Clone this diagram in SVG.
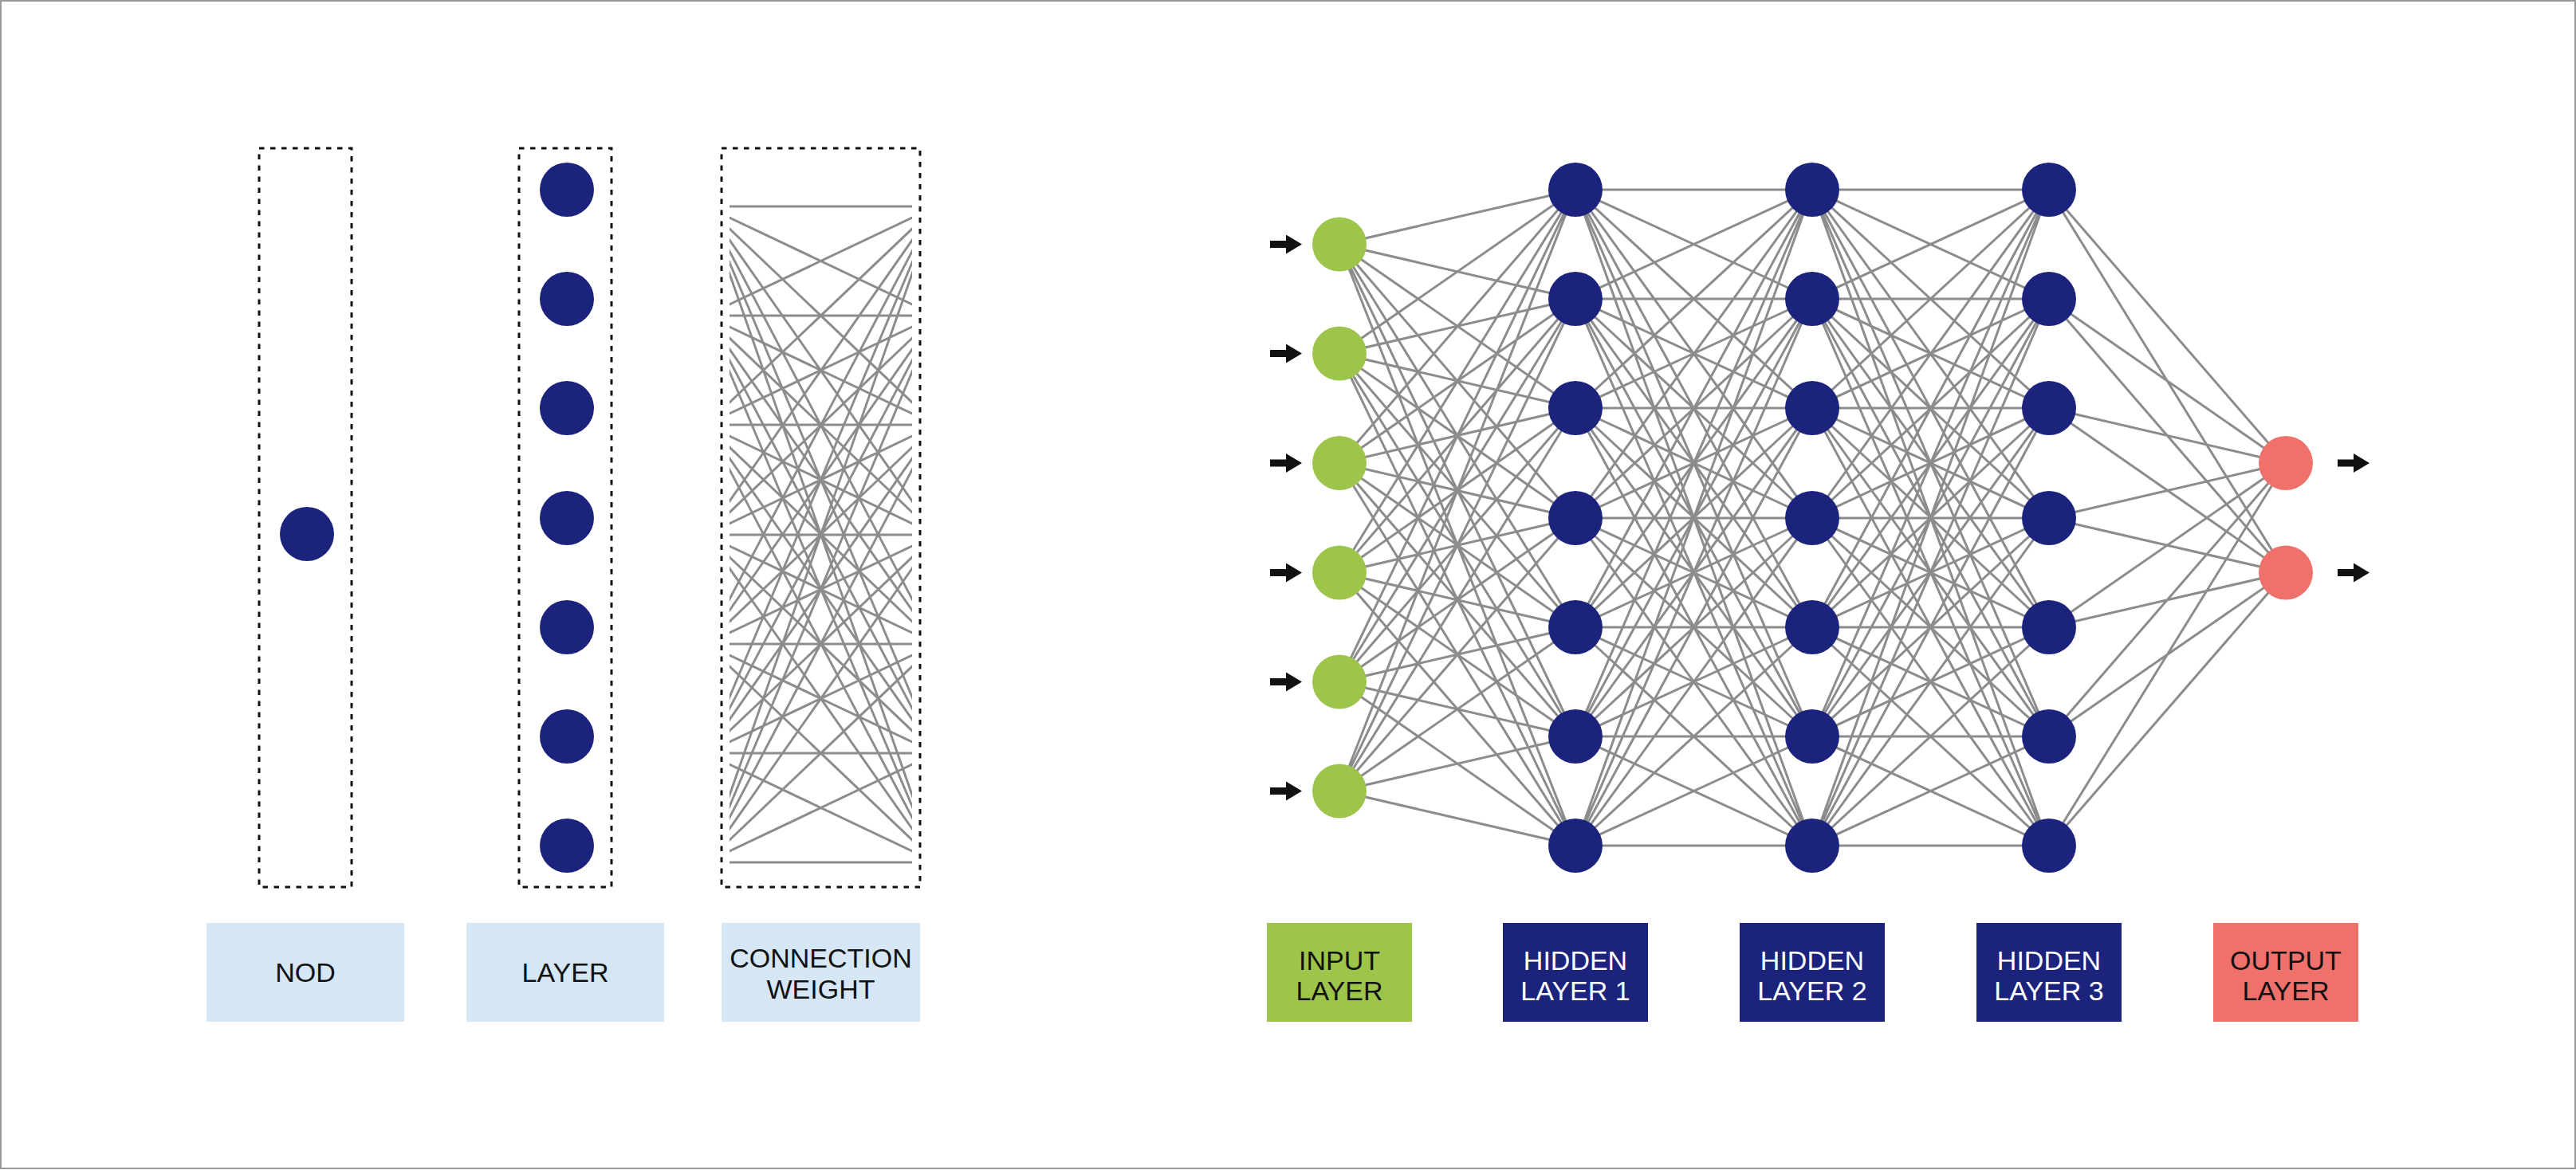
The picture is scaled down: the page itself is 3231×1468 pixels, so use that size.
<svg xmlns="http://www.w3.org/2000/svg" xmlns:xlink="http://www.w3.org/1999/xlink" width="3231" height="1468" viewBox="0 0 3231 1468">
<style>
.frame{fill:#fff;stroke:#9a9a9a;stroke-width:2}
.dash{fill:none;stroke:#111;stroke-width:3;stroke-dasharray:6.5 7.5}
.wire{fill:none;stroke:#8c8c8c;stroke-width:3}
.navy{fill:#1b237d}
.green{fill:#9dc54b}
.red{fill:#f0716b}
.lblue{fill:#d5e6f5}
.arrow{fill:#111}
.t{font-family:"Liberation Sans",Arial,sans-serif;font-size:34px;text-anchor:middle}
.dark{fill:#111}
.white{fill:#fff}
</style>
<defs>
<path id="hh" d="M0 238L297 238M0 238L297 375M0 238L297 512M0 238L297 650M0 238L297 787M0 238L297 924M0 238L297 1061M0 375L297 238M0 375L297 375M0 375L297 512M0 375L297 650M0 375L297 787M0 375L297 924M0 375L297 1061M0 512L297 238M0 512L297 375M0 512L297 512M0 512L297 650M0 512L297 787M0 512L297 924M0 512L297 1061M0 650L297 238M0 650L297 375M0 650L297 512M0 650L297 650M0 650L297 787M0 650L297 924M0 650L297 1061M0 787L297 238M0 787L297 375M0 787L297 512M0 787L297 650M0 787L297 787M0 787L297 924M0 787L297 1061M0 924L297 238M0 924L297 375M0 924L297 512M0 924L297 650M0 924L297 787M0 924L297 924M0 924L297 1061M0 1061L297 238M0 1061L297 375M0 1061L297 512M0 1061L297 650M0 1061L297 787M0 1061L297 924M0 1061L297 1061"/>
<path id="arr" d="M0 -4.5H20V-12L40 0L20 12V4.5H0Z"/>
<clipPath id="cwclip"><rect x="915" y="180" width="229" height="940"/></clipPath>
</defs>

<rect class="frame" x="1" y="1" width="3229" height="1465"/>

<!-- left legend panel -->
<g id="nod-panel">
<rect class="dash" x="325" y="186" width="116" height="927"/>
<circle class="navy" cx="385" cy="670" r="34"/>
</g>
<g id="layer-panel">
<rect class="dash" x="651" y="186" width="116" height="927"/>
<circle class="navy" cx="711" cy="238" r="34"/>
<circle class="navy" cx="711" cy="375" r="34"/>
<circle class="navy" cx="711" cy="512" r="34"/>
<circle class="navy" cx="711" cy="650" r="34"/>
<circle class="navy" cx="711" cy="787" r="34"/>
<circle class="navy" cx="711" cy="924" r="34"/>
<circle class="navy" cx="711" cy="1061" r="34"/>
</g>
<g id="weight-panel">
<rect class="dash" x="905" y="186" width="249" height="927"/>
<g clip-path="url(#cwclip)">
<use xlink:href="#hh" class="wire" transform="translate(885.5,21) scale(0.97,1)"/>
</g>
</g>

<g id="label-nod">
<rect class="lblue" x="259" y="1158" width="248" height="124"/>
<text class="t dark" x="383" y="1232">NOD</text>
</g>
<g id="label-layer">
<rect class="lblue" x="585" y="1158" width="248" height="124"/>
<text class="t dark" x="709" y="1232">LAYER</text>
</g>
<g id="label-weight">
<rect class="lblue" x="905" y="1158" width="249" height="124"/>
<text class="t dark" x="1029.5" y="1214">CONNECTION</text>
<text class="t dark" x="1029.5" y="1253">WEIGHT</text>
</g>

<!-- connectors -->
<g id="connectors">
<path class="wire" d="M1680 306.5L1976 238M1680 306.5L1976 375M1680 306.5L1976 512M1680 306.5L1976 650M1680 306.5L1976 787M1680 306.5L1976 924M1680 306.5L1976 1061M1680 443.5L1976 238M1680 443.5L1976 375M1680 443.5L1976 512M1680 443.5L1976 650M1680 443.5L1976 787M1680 443.5L1976 924M1680 443.5L1976 1061M1680 581L1976 238M1680 581L1976 375M1680 581L1976 512M1680 581L1976 650M1680 581L1976 787M1680 581L1976 924M1680 581L1976 1061M1680 718.5L1976 238M1680 718.5L1976 375M1680 718.5L1976 512M1680 718.5L1976 650M1680 718.5L1976 787M1680 718.5L1976 924M1680 718.5L1976 1061M1680 855.5L1976 238M1680 855.5L1976 375M1680 855.5L1976 512M1680 855.5L1976 650M1680 855.5L1976 787M1680 855.5L1976 924M1680 855.5L1976 1061M1680 992.5L1976 238M1680 992.5L1976 375M1680 992.5L1976 512M1680 992.5L1976 650M1680 992.5L1976 787M1680 992.5L1976 924M1680 992.5L1976 1061"/>
<use xlink:href="#hh" class="wire" transform="translate(1976,0)"/>
<use xlink:href="#hh" class="wire" transform="translate(2273,0)"/>
<path class="wire" d="M2570 238L2867 581M2570 375L2867 581M2570 512L2867 581M2570 650L2867 581M2570 787L2867 581M2570 924L2867 581M2570 1061L2867 581M2570 238L2867 718.5M2570 375L2867 718.5M2570 512L2867 718.5M2570 650L2867 718.5M2570 787L2867 718.5M2570 924L2867 718.5M2570 1061L2867 718.5"/>
<use xlink:href="#arr" class="arrow" x="1593" y="306.5"/>
<use xlink:href="#arr" class="arrow" x="1593" y="443.5"/>
<use xlink:href="#arr" class="arrow" x="1593" y="581"/>
<use xlink:href="#arr" class="arrow" x="1593" y="718.5"/>
<use xlink:href="#arr" class="arrow" x="1593" y="855.5"/>
<use xlink:href="#arr" class="arrow" x="1593" y="992.5"/>
<use xlink:href="#arr" class="arrow" x="2932" y="581"/>
<use xlink:href="#arr" class="arrow" x="2932" y="718.5"/>
</g>

<!-- input nodes -->
<g id="in-1"><circle class="green" cx="1680" cy="306.5" r="34"/></g>
<g id="in-2"><circle class="green" cx="1680" cy="443.5" r="34"/></g>
<g id="in-3"><circle class="green" cx="1680" cy="581" r="34"/></g>
<g id="in-4"><circle class="green" cx="1680" cy="718.5" r="34"/></g>
<g id="in-5"><circle class="green" cx="1680" cy="855.5" r="34"/></g>
<g id="in-6"><circle class="green" cx="1680" cy="992.5" r="34"/></g>

<!-- hidden layer 1 -->
<g id="h1-1"><circle class="navy" cx="1976" cy="238" r="34"/></g>
<g id="h1-2"><circle class="navy" cx="1976" cy="375" r="34"/></g>
<g id="h1-3"><circle class="navy" cx="1976" cy="512" r="34"/></g>
<g id="h1-4"><circle class="navy" cx="1976" cy="650" r="34"/></g>
<g id="h1-5"><circle class="navy" cx="1976" cy="787" r="34"/></g>
<g id="h1-6"><circle class="navy" cx="1976" cy="924" r="34"/></g>
<g id="h1-7"><circle class="navy" cx="1976" cy="1061" r="34"/></g>

<!-- hidden layer 2 -->
<g id="h2-1"><circle class="navy" cx="2273" cy="238" r="34"/></g>
<g id="h2-2"><circle class="navy" cx="2273" cy="375" r="34"/></g>
<g id="h2-3"><circle class="navy" cx="2273" cy="512" r="34"/></g>
<g id="h2-4"><circle class="navy" cx="2273" cy="650" r="34"/></g>
<g id="h2-5"><circle class="navy" cx="2273" cy="787" r="34"/></g>
<g id="h2-6"><circle class="navy" cx="2273" cy="924" r="34"/></g>
<g id="h2-7"><circle class="navy" cx="2273" cy="1061" r="34"/></g>

<!-- hidden layer 3 -->
<g id="h3-1"><circle class="navy" cx="2570" cy="238" r="34"/></g>
<g id="h3-2"><circle class="navy" cx="2570" cy="375" r="34"/></g>
<g id="h3-3"><circle class="navy" cx="2570" cy="512" r="34"/></g>
<g id="h3-4"><circle class="navy" cx="2570" cy="650" r="34"/></g>
<g id="h3-5"><circle class="navy" cx="2570" cy="787" r="34"/></g>
<g id="h3-6"><circle class="navy" cx="2570" cy="924" r="34"/></g>
<g id="h3-7"><circle class="navy" cx="2570" cy="1061" r="34"/></g>

<!-- output nodes -->
<g id="out-1"><circle class="red" cx="2867" cy="581" r="34"/></g>
<g id="out-2"><circle class="red" cx="2867" cy="718.5" r="34"/></g>

<!-- layer labels -->
<g id="label-input">
<rect class="green" x="1589" y="1158" width="182" height="124"/>
<text class="t dark" x="1680" y="1217">INPUT</text>
<text class="t dark" x="1680" y="1255">LAYER</text>
</g>
<g id="label-hidden1">
<rect class="navy" x="1885" y="1158" width="182" height="124"/>
<text class="t white" x="1976" y="1217">HIDDEN</text>
<text class="t white" x="1976" y="1255">LAYER 1</text>
</g>
<g id="label-hidden2">
<rect class="navy" x="2182" y="1158" width="182" height="124"/>
<text class="t white" x="2273" y="1217">HIDDEN</text>
<text class="t white" x="2273" y="1255">LAYER 2</text>
</g>
<g id="label-hidden3">
<rect class="navy" x="2479" y="1158" width="182" height="124"/>
<text class="t white" x="2570" y="1217">HIDDEN</text>
<text class="t white" x="2570" y="1255">LAYER 3</text>
</g>
<g id="label-output">
<rect class="red" x="2776" y="1158" width="182" height="124"/>
<text class="t dark" x="2867" y="1217">OUTPUT</text>
<text class="t dark" x="2867" y="1255">LAYER</text>
</g>
</svg>
